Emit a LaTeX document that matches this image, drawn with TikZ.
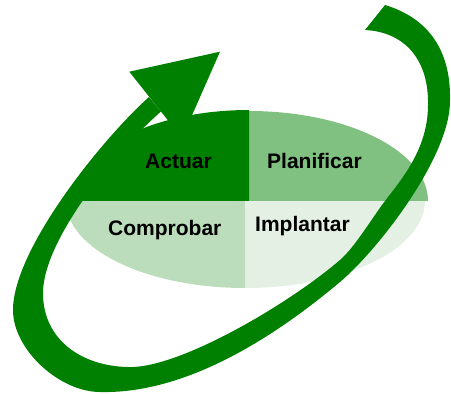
\documentclass[tikz,border=0pt]{standalone}
\usepackage{fontspec}
\setmainfont{Liberation Sans}
\definecolor{dkgreen}{RGB}{0,128,0}
\definecolor{planc}{RGB}{128,192,128}
\definecolor{compc}{RGB}{188,221,188}
\definecolor{implc}{RGB}{229,240,229}
\begin{document}
\begin{tikzpicture}[x=1pt,y=-1pt,
  lbl/.style={inner sep=0pt,anchor=base west,font=\fontsize{21}{21}\selectfont\bfseries,text=black}]
\useasboundingbox (0,0) rectangle (451,394);
% quadrants
\fill[planc] (249,201) -- (428,201) arc[start angle=0,end angle=-90,x radius=179,y radius=90] -- cycle;
\fill[dkgreen] (249,201) -- (249,110) arc[start angle=-90,end angle=-180,x radius=176,y radius=91] -- cycle;
\fill[compc] (245,201) -- (66,201) arc[start angle=180,end angle=90,x radius=179,y radius=87] -- cycle;
\fill[implc] (245,201) -- (245,288) arc[start angle=90,end angle=0,x radius=180,y radius=87] -- cycle;
% band
\fill[dkgreen] (385,5) .. controls (428,18) and (451,50) .. (450,100)
  .. controls (451,155) and (380,248) .. (340,282)
  .. controls (265,345) and (180,394) .. (100,392)
  .. controls (60,392) and (13,350) .. (13,310)
  .. controls (13,250) and (101,140) .. (149,97)
  -- (161,111.5)
  .. controls (116,151) and (43,240) .. (43,293)
  .. controls (43,342) and (85,368) .. (133,367)
  .. controls (185,365) and (290,303) .. (340,260)
  .. controls (355,247) and (372,218) .. (385,201)
  .. controls (400,181) and (428,150) .. (428,105)
  .. controls (429,60) and (405,32) .. (365,30) -- cycle;
% arrow head
\fill[dkgreen] (129.3,71.7) -- (220,51.7) -- (182,138) -- cycle;
% labels
\node[lbl] (act) at (145,168) {Actuar};
\node[lbl] (pla) at (267,168) {Planificar};
\node[lbl] (com) at (108,235.5) {Comprobar};
\node[lbl] (imp) at (255,231) {Implantar};
\end{tikzpicture}
\end{document}
